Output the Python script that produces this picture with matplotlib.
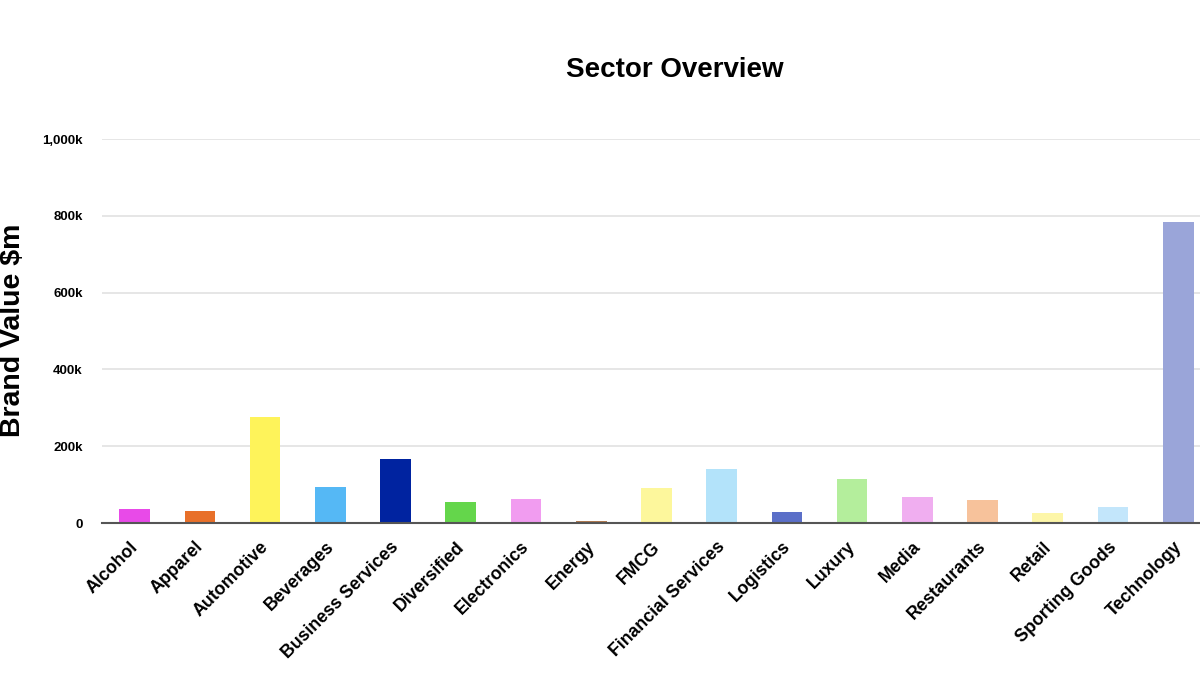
import matplotlib
matplotlib.use("Agg")
import matplotlib.pyplot as plt
import matplotlib.transforms as mtransforms
from matplotlib.ticker import FuncFormatter

plt.rcParams['font.family'] = ['Liberation Sans', 'DejaVu Sans']

categories = ["Alcohol", "Apparel", "Automotive", "Beverages", "Business Services",
              "Diversified", "Electronics", "Energy", "FMCG", "Financial Services",
              "Logistics", "Luxury", "Media", "Restaurants", "Retail",
              "Sporting Goods", "Technology"]
values = [37.5, 31, 276, 95, 168, 54, 62, 5, 91, 142, 28, 114, 67, 60, 27, 41, 784]  # thousands of $m
colors = ["#e84ae8", "#e8702a", "#fef35a", "#55b8f5", "#0023a0", "#64d64b", "#f19cf0",
          "#b07a50", "#fdf79c", "#b3e3fa", "#5b6fc8", "#b4ee9c", "#f0aef0", "#f7c29b",
          "#fdf6a8", "#c3e6fb", "#9aa5d9"]
yticks = [0, 200, 400, 600, 800, 1000]

fig = plt.figure(figsize=(12, 6.75), dpi=100)
ax = fig.add_axes([0.085, 0.225, 0.924, 0.569])

x = list(range(len(categories)))
ax.bar(x, values, width=0.47, color=colors, zorder=3)
ax.set_xlim(-0.5, len(categories) - 0.5)
ax.set_ylim(0, 1000)
ax.set_yticks(yticks)
ax.yaxis.set_major_formatter(FuncFormatter(lambda v, p: "0" if v == 0 else f"{int(v):,}k"))
ax.grid(axis='y', color='#e4e4e4', linewidth=1.3, zorder=0)
ax.set_axisbelow(True)
for s in ['top', 'right', 'left']:
    ax.spines[s].set_visible(False)
ax.spines['bottom'].set_color('#555555')
ax.spines['bottom'].set_linewidth(1.5)
ax.spines['bottom'].set_zorder(4)
ax.tick_params(axis='both', length=0)
ax.tick_params(axis='y', pad=14, labelsize=9.5)
for lbl in ax.get_yticklabels():
    lbl.set_fontweight('bold')
ax.set_xticks(x)
ax.set_xticklabels(categories, rotation=45, ha='right', rotation_mode='anchor',
                   fontsize=12.8, fontweight='bold')
ax.tick_params(axis='x', pad=11)
offset = mtransforms.ScaledTranslation(-5 / 100, 0, fig.dpi_scale_trans)
for lbl in ax.get_xticklabels():
    lbl.set_transform(lbl.get_transform() + offset)

fig.text(0.5625, 0.896, "Sector Overview", ha='center', va='center', fontsize=20, fontweight='bold')
fig.text(0.011, 0.51, "Brand Value $m", rotation=90, ha='center', va='center',
         fontsize=20.5, fontweight='bold')

fig.savefig("out.png", dpi=100)
